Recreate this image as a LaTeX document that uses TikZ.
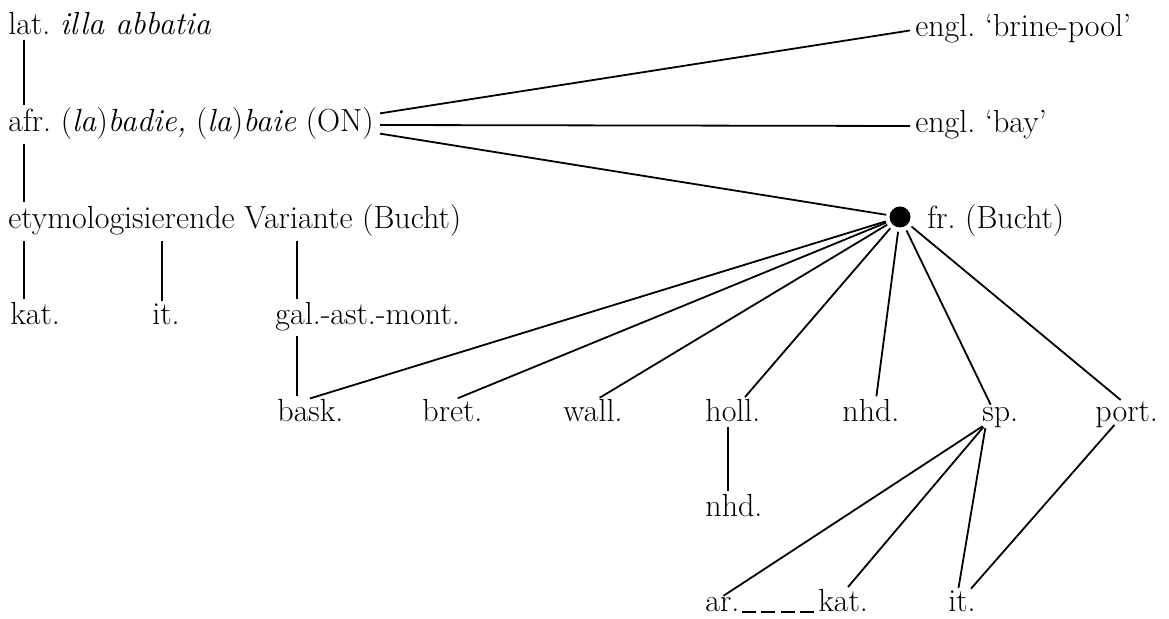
\documentclass[tikz,border=0pt]{standalone}
\usepackage{tikz}
\usetikzlibrary{calc}

\tikzset{
  lbl/.style={anchor=base west, inner sep=0pt, font=\fontsize{16}{19}\selectfont},
  link/.style={line width=0.9pt, shorten <=2pt, shorten >=1.5pt},
}

\begin{document}
\frenchspacing
\begin{tikzpicture}[x=0.5pt,y=-0.5pt]
\useasboundingbox (0,0) rectangle (1169,619);
\node[lbl] (lat) at (8,35) {lat. \textit{illa abbatia}};
\node[lbl] (afr) at (8,132) {afr. (\textit{la})\textit{badie,} (\textit{la})\textit{baie} (ON)};
\node[lbl] (etym) at (8,229) {etymologisierende Variante (Bucht)};
\node[lbl] (kat) at (10,325) {kat.};
\node[lbl] (it) at (152,325) {it.};
\node[lbl] (gal) at (275,325) {gal.-ast.-mont.};
\node[lbl] (brine) at (915,37) {engl. `brine-pool'};
\node[lbl] (bay) at (915,133) {engl. `bay'};
\node[circle, fill, inner sep=0pt, minimum size=10.5pt] (frdot) at (900,217) {};
\node[lbl] (fr) at (927,229) {fr. (Bucht)};
\node[lbl] (bask) at (277,422) {bask.};
\node[lbl] (bret) at (422,422) {bret.};
\node[lbl] (wall) at (563,422) {wall.};
\node[lbl] (holl) at (705,422) {holl.};
\node[lbl] (nhd) at (842,422) {nhd.};
\node[lbl] (sp) at (982,422) {sp.};
\node[lbl] (port) at (1095,422) {port.};
\node[lbl] (nhdb) at (705,517) {nhd.};
\node[lbl] (ar) at (705,612) {ar.};
\node[lbl] (katb) at (818,612) {kat.};
\node[lbl] (itb) at (948,612) {it.};
\coordinate (spfoot) at ([xshift=2pt,yshift=-1pt]sp.base west);

\draw[link] ([xshift=8pt]lat.south west) -- ([xshift=8pt]afr.north west);
\draw[link] ([xshift=8pt]afr.south west) -- ([xshift=8pt]etym.north west);
\draw[link] ([xshift=8pt]etym.south west) -- ([xshift=7pt]kat.north west);
\draw[link] ([xshift=77pt]etym.south west) -- ([xshift=5pt]it.north west);
\draw[link] ([xshift=144.5pt]etym.south west) -- ([xshift=11pt]gal.north west);
\draw[link] ([xshift=11pt]gal.south west) -- ([xshift=10pt]bask.north west);
\draw[link] ([xshift=11.5pt]holl.south west) -- ([xshift=11.5pt]nhdb.north west);

\draw[link] ($(afr.base east)+(1pt,9pt)$) -- ($(brine.base west)+(-1pt,3.5pt)$);
\draw[link] ($(afr.base east)+(1pt,3.5pt)$) -- ($(bay.base west)+(-1pt,3.5pt)$);
\draw[link] ($(afr.base east)+(1pt,-0.5pt)$) -- (frdot);

\draw[link] (frdot) -- ([xshift=15pt]bask.north west);
\draw[link] (frdot) -- ([xshift=16.5pt]bret.north west);
\draw[link] (frdot) -- ([xshift=17pt]wall.north west);
\draw[link] (frdot) -- ([xshift=19pt]holl.north west);
\draw[link] (frdot) -- ([xshift=17pt]nhd.north west);
\draw[link] (frdot) -- ([xshift=5pt]sp.north west);
\draw[link] (frdot) -- ([xshift=14pt]port.north west);

\draw[link] (spfoot) -- ([xshift=8pt]ar.north west);
\draw[link] (spfoot) -- ([xshift=14pt]katb.north west);
\draw[link] (spfoot) -- ([xshift=5pt]itb.north west);
\draw[link] ([xshift=11pt]port.base west) -- ([xshift=10.5pt]itb.north west);
\draw[line width=0.9pt, dash pattern=on 7pt off 2.7pt] ([xshift=1pt]ar.base east) -- ([xshift=-1pt]katb.base west);
\end{tikzpicture}
\end{document}
